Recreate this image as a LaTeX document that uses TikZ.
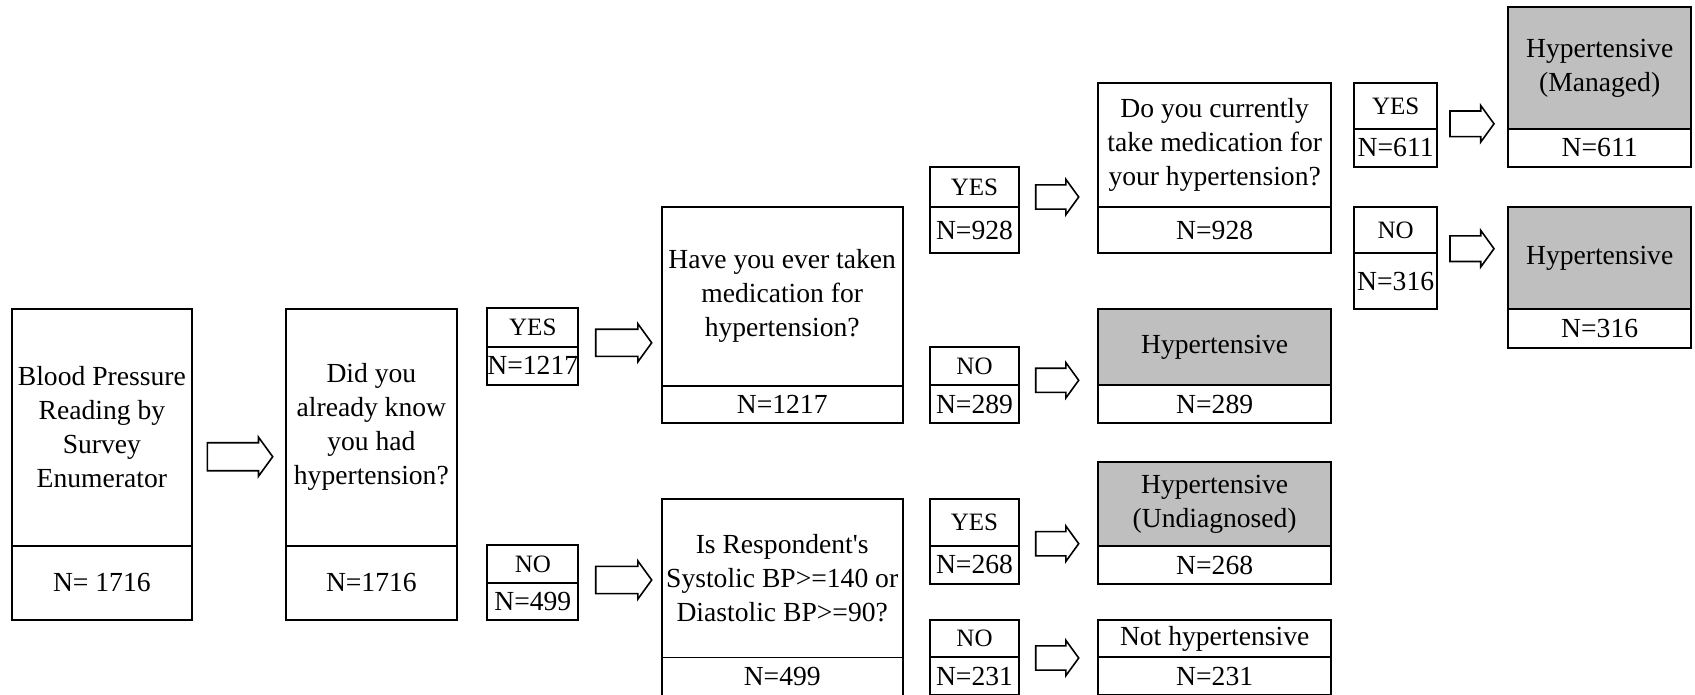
\documentclass[tikz,border=0pt]{standalone}
\usepackage{fontspec}
\setmainfont{Liberation Serif}
\usetikzlibrary{shapes.arrows, positioning}

\begin{document}
\begin{tikzpicture}[
      x=1pt,
      y=-1pt,
      node distance=0pt,
      box/.style={
          rectangle,
          draw,
          line width=1.8pt,
          align=center,
          inner sep=0pt,
          outer sep=0pt,
          font=\fontsize{27.6}{34}\selectfont
        },
      ask/.style={
          box,
          anchor=north west
        },
      result/.style={
          ask,
          fill=gray!50
        },
      answer/.style={
          box,
          anchor=north west,
          font=\fontsize{25}{30}\selectfont
        },
      count/.style={
          box,
          below=of #1
        },
      blockarrow/.style={
          single arrow,
          draw,
          line width=1.6pt,
          inner xsep=0pt,
          inner ysep=#1,
          outer sep=0pt,
          single arrow head extend=5.5pt,
          single arrow tip angle=108,
          anchor=tail
        }
    ]

    \clip (0,0) rectangle (1695,694);

    % Nodes
    \node[ask, minimum width=180.3pt, minimum height=236.7pt] (bp) at (11.7,309) {Blood Pressure\\Reading by\\Survey\\Enumerator};
    \node[count=bp, minimum width=180.3pt, minimum height=74.3pt] (bpN) {N= 1716};
    \node[ask, minimum width=170.7pt, minimum height=236.7pt] (know) at (286,309) {Did you\\already know\\you had\\hypertension?};
    \node[count=know, minimum width=170.7pt, minimum height=74.3pt] (knowN) {N=1716};

    \node[answer, minimum width=91pt, minimum height=38.4pt] (yesA) at (487.3,308.3) {YES};
    \node[count=yesA, minimum width=91pt, minimum height=38.3pt] (yesAN) {N=1217};
    \node[answer, minimum width=91pt, minimum height=38.3pt] (noA) at (487.3,545) {NO};
    \node[count=noA, minimum width=91pt, minimum height=36.7pt] (noAN) {N=499};

    \node[ask, minimum width=241pt, minimum height=179.3pt] (ever) at (661.7,206.7) {Have you ever taken\\medication for\\hypertension?};
    \node[count=ever, minimum width=241pt, minimum height=36.7pt] (everN) {N=1217};
    \node[ask, minimum width=241pt, minimum height=158.2pt] (bpq) at (661.7,499.3) {Is Respondent\textquotesingle s\\Systolic BP>=140 or\\Diastolic BP>=90?};
    \node[count=bpq, minimum width=241pt, minimum height=38pt] (bpqN) {N=499};

    \node[answer, minimum width=89pt, minimum height=39.4pt] (yesB) at (930,167.3) {YES};
    \node[count=yesB, minimum width=89pt, minimum height=46.6pt] (yesBN) {N=928};
    \node[answer, minimum width=89pt, minimum height=38.3pt] (noB) at (930,346.7) {NO};
    \node[count=noB, minimum width=89pt, minimum height=38.3pt] (noBN) {N=289};
    \node[answer, minimum width=89pt, minimum height=46.4pt] (yesC) at (930,499.3) {YES};
    \node[count=yesC, minimum width=89pt, minimum height=38.3pt] (yesCN) {N=268};
    \node[answer, minimum width=89pt, minimum height=37.3pt] (noC) at (930,620) {NO};
    \node[count=noC, minimum width=89pt, minimum height=38pt] (noCN) {N=231};

    \node[ask, minimum width=232.7pt, minimum height=124pt] (current) at (1098.3,82.7) {Do you currently\\take medication for\\your hypertension?};
    \node[count=current, minimum width=232.7pt, minimum height=46.6pt] (currentN) {N=928};
    \node[result, minimum width=232.7pt, minimum height=75.7pt] (hypA) at (1098.3,309.3) {Hypertensive};
    \node[count=hypA, minimum width=232.7pt, minimum height=38.3pt] (hypAN) {N=289};
    \node[result, minimum width=232.7pt, minimum height=84.3pt] (undiag) at (1098.3,461.7) {Hypertensive\\(Undiagnosed)};
    \node[count=undiag, minimum width=232.7pt, minimum height=38pt] (undiagN) {N=268};
    \node[ask, minimum width=232.7pt, minimum height=37.3pt] (nothyp) at (1098.3,620) {Not hypertensive};
    \node[count=nothyp, minimum width=232.7pt, minimum height=38pt] (nothypN) {N=231};

    \node[answer, minimum width=83.3pt, minimum height=45.7pt] (yesD) at (1354,83.3) {YES};
    \node[count=yesD, minimum width=83.3pt, minimum height=37.7pt] (yesDN) {N=611};
    \node[answer, minimum width=83.3pt, minimum height=46.6pt] (noD) at (1354,206.7) {NO};
    \node[count=noD, minimum width=83.3pt, minimum height=56pt] (noDN) {N=316};

    \node[result, minimum width=182.7pt, minimum height=122.3pt] (managed) at (1508.3,6.7) {Hypertensive\\(Managed)};
    \node[count=managed, minimum width=182.7pt, minimum height=37.7pt] (managedN) {N=611};
    \node[result, minimum width=182.7pt, minimum height=102.6pt] (hypB) at (1508.3,206.7) {Hypertensive};
    \node[count=hypB, minimum width=182.7pt, minimum height=38.4pt] (hypBN) {N=316};

    % Arrows
    \node[blockarrow=13.2pt, minimum height=65.4pt] (toKnow) at (207.3,456.7) {};
    \node[blockarrow=12.8pt, minimum height=56pt] (toEver) at (595.7,342.8) {};
    \node[blockarrow=12.8pt, minimum height=56pt] (toBpq) at (595.7,580) {};
    \node[blockarrow=11.3pt, minimum height=43pt] (toCurrent) at (1035.7,197) {};
    \node[blockarrow=11.3pt, minimum height=43pt] (toHypA) at (1035.7,380.3) {};
    \node[blockarrow=11.3pt, minimum height=43pt] (toUndiag) at (1035.7,543.7) {};
    \node[blockarrow=11.3pt, minimum height=43pt] (toNothyp) at (1035.7,658) {};
    \node[blockarrow=12pt, minimum height=44pt] (toManaged) at (1450,123.8) {};
    \node[blockarrow=12pt, minimum height=44pt] (toHypB) at (1450,248.7) {};

  \end{tikzpicture}
\end{document}
